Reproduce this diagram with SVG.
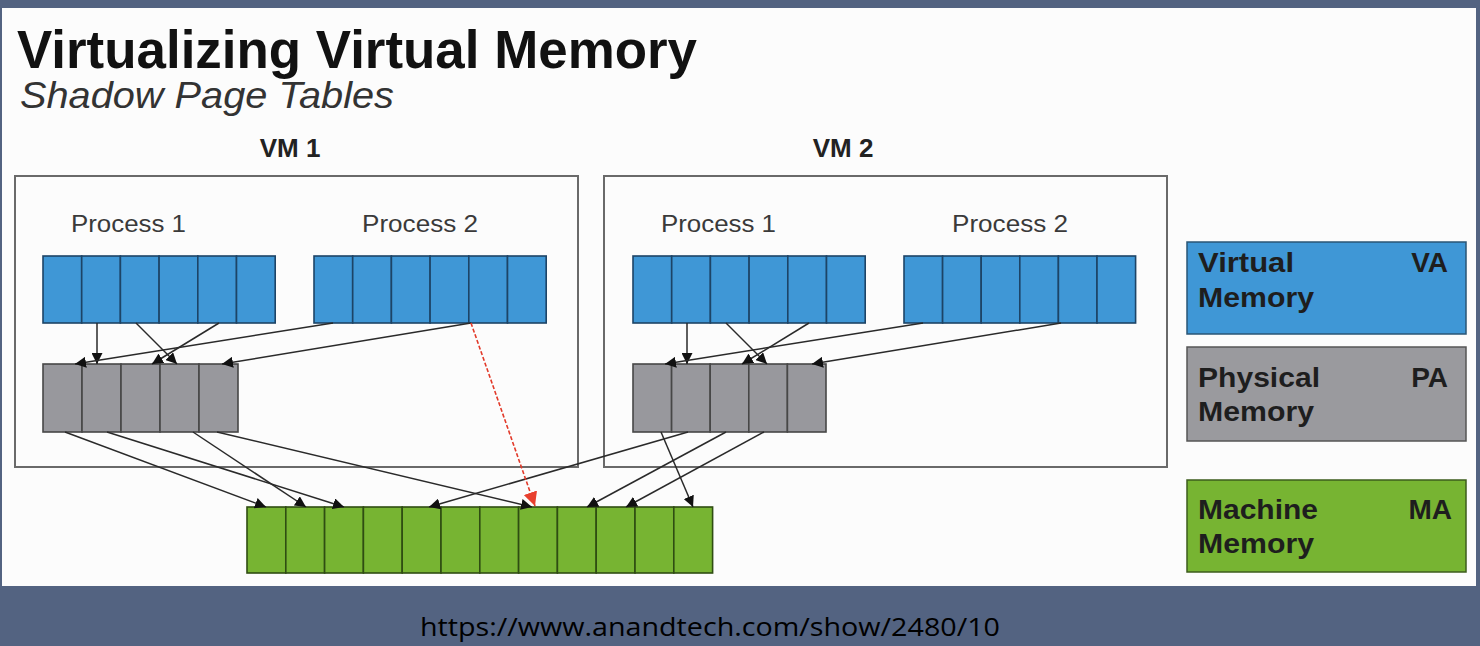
<svg xmlns="http://www.w3.org/2000/svg" width="1480" height="646" viewBox="0 0 1480 646">
<style>
.bg{fill:#536381}
.panel{fill:#fcfcfc}
.vmbox{fill:none;stroke:#6a6a6a;stroke-width:2}
.va{fill:#3f97d6;stroke:#1d4466;stroke-width:1.6}
.pa{fill:#98989d;stroke:#474747;stroke-width:1.6}
.ma{fill:#77b432;stroke:#2f4d12;stroke-width:1.6}
.lg-va{fill:#3f97d6;stroke:#2a5575;stroke-width:1.5}
.lg-pa{fill:#9a9a9e;stroke:#555;stroke-width:1.5}
.lg-ma{fill:#77b432;stroke:#3d5c1c;stroke-width:1.5}
.title{font-family:"Liberation Sans",Arial,sans-serif;font-weight:bold;font-size:53px;fill:#111}
.sub{font-family:"Liberation Sans",Arial,sans-serif;font-style:italic;font-size:36px;fill:#333}
.vm{font-family:"Liberation Sans",Arial,sans-serif;font-weight:bold;font-size:26px;fill:#222}
.proc{font-family:"Liberation Sans",Arial,sans-serif;font-size:23px;fill:#3a3a3a}
.lg{font-family:"Liberation Sans",Arial,sans-serif;font-weight:bold;font-size:28px;fill:#1e1e1e}
.url{font-family:"Open Sans","DejaVu Sans",sans-serif;font-size:25px;fill:#000}
.conn{stroke:#2a2a2a;stroke-width:1.5;fill:none;marker-end:url(#ah)}
.red{stroke:#e23a2a;stroke-width:1.6;stroke-dasharray:4 2;fill:none;marker-end:url(#ahr)}
</style>
<defs>
<marker id="ah" viewBox="0 0 10 10" refX="10" refY="5" markerWidth="11" markerHeight="11" markerUnits="userSpaceOnUse" orient="auto">
<path d="M0,0 L10,5 L0,10 z" fill="#111"/>
</marker>
<marker id="ahr" viewBox="0 0 10 10" refX="10" refY="5" markerWidth="14" markerHeight="14" markerUnits="userSpaceOnUse" orient="auto">
<path d="M0,0 L10,5 L0,10 z" fill="#e8402e"/>
</marker>
</defs>
<rect class="bg" x="0" y="0" width="1480" height="646"/>
<rect class="panel" x="2" y="8" width="1474" height="578"/>
<g id="title">
<text class="title" x="17" y="68" textLength="680" lengthAdjust="spacingAndGlyphs">Virtualizing Virtual Memory</text>
<text class="sub" x="20" y="108" textLength="374" lengthAdjust="spacingAndGlyphs">Shadow Page Tables</text>
</g>
<g id="vm1">
<text class="vm" x="290" y="157" text-anchor="middle">VM 1</text>
<rect class="vmbox" x="15" y="176" width="563" height="291"/>
<text class="proc" x="71" y="232" textLength="115" lengthAdjust="spacingAndGlyphs">Process 1</text>
<text class="proc" x="362" y="232" textLength="116" lengthAdjust="spacingAndGlyphs">Process 2</text>
</g>
<g id="vm2">
<text class="vm" x="843" y="157" text-anchor="middle">VM 2</text>
<rect class="vmbox" x="604" y="176" width="563" height="291"/>
<text class="proc" x="661" y="232" textLength="115" lengthAdjust="spacingAndGlyphs">Process 1</text>
<text class="proc" x="952" y="232" textLength="116" lengthAdjust="spacingAndGlyphs">Process 2</text>
</g>
<g id="vm1-p1-va">
<rect class="va" x="43" y="256" width="38.7" height="67"/><rect class="va" x="81.7" y="256" width="38.7" height="67"/><rect class="va" x="120.4" y="256" width="38.7" height="67"/><rect class="va" x="159.1" y="256" width="38.7" height="67"/><rect class="va" x="197.8" y="256" width="38.7" height="67"/><rect class="va" x="236.5" y="256" width="38.7" height="67"/>
</g>
<g id="vm1-p2-va">
<rect class="va" x="314" y="256" width="38.7" height="67"/><rect class="va" x="352.7" y="256" width="38.7" height="67"/><rect class="va" x="391.4" y="256" width="38.7" height="67"/><rect class="va" x="430.1" y="256" width="38.7" height="67"/><rect class="va" x="468.8" y="256" width="38.7" height="67"/><rect class="va" x="507.5" y="256" width="38.7" height="67"/>
</g>
<g id="vm2-p1-va">
<rect class="va" x="633" y="256" width="38.7" height="67"/><rect class="va" x="671.7" y="256" width="38.7" height="67"/><rect class="va" x="710.4" y="256" width="38.7" height="67"/><rect class="va" x="749.1" y="256" width="38.7" height="67"/><rect class="va" x="787.8" y="256" width="38.7" height="67"/><rect class="va" x="826.5" y="256" width="38.7" height="67"/>
</g>
<g id="vm2-p2-va">
<rect class="va" x="904" y="256" width="38.6" height="67"/><rect class="va" x="942.6" y="256" width="38.6" height="67"/><rect class="va" x="981.2" y="256" width="38.6" height="67"/><rect class="va" x="1019.8" y="256" width="38.6" height="67"/><rect class="va" x="1058.4" y="256" width="38.6" height="67"/><rect class="va" x="1097" y="256" width="38.6" height="67"/>
</g>
<g id="vm1-pa">
<rect class="pa" x="43" y="364" width="39" height="68"/><rect class="pa" x="82" y="364" width="39" height="68"/><rect class="pa" x="121" y="364" width="39" height="68"/><rect class="pa" x="160" y="364" width="39" height="68"/><rect class="pa" x="199" y="364" width="39" height="68"/>
</g>
<g id="vm2-pa">
<rect class="pa" x="633" y="364" width="38.6" height="68"/><rect class="pa" x="671.6" y="364" width="38.6" height="68"/><rect class="pa" x="710.2" y="364" width="38.6" height="68"/><rect class="pa" x="748.8" y="364" width="38.6" height="68"/><rect class="pa" x="787.4" y="364" width="38.6" height="68"/>
</g>
<g id="machine-memory">
<rect class="ma" x="247" y="507" width="38.8" height="66"/><rect class="ma" x="285.8" y="507" width="38.8" height="66"/><rect class="ma" x="324.6" y="507" width="38.8" height="66"/><rect class="ma" x="363.4" y="507" width="38.8" height="66"/><rect class="ma" x="402.2" y="507" width="38.8" height="66"/><rect class="ma" x="441" y="507" width="38.8" height="66"/><rect class="ma" x="479.8" y="507" width="38.8" height="66"/><rect class="ma" x="518.6" y="507" width="38.8" height="66"/><rect class="ma" x="557.4" y="507" width="38.8" height="66"/><rect class="ma" x="596.2" y="507" width="38.8" height="66"/><rect class="ma" x="635" y="507" width="38.8" height="66"/><rect class="ma" x="673.8" y="507" width="38.8" height="66"/>
</g>
<g id="connectors">
<line class="conn" x1="97" y1="323" x2="97" y2="364"/>
<line class="conn" x1="136" y1="323" x2="177" y2="364"/>
<line class="conn" x1="219" y1="323" x2="152" y2="364"/>
<line class="conn" x1="333" y1="323" x2="75" y2="364"/>
<line class="conn" x1="471" y1="323" x2="222" y2="364"/>
<line class="conn" x1="687" y1="323" x2="687" y2="364"/>
<line class="conn" x1="726" y1="323" x2="767" y2="364"/>
<line class="conn" x1="809" y1="323" x2="742" y2="364"/>
<line class="conn" x1="923" y1="323" x2="665" y2="364"/>
<line class="conn" x1="1061" y1="323" x2="812" y2="364"/>
<line class="conn" x1="65" y1="432" x2="266" y2="507"/>
<line class="conn" x1="107" y1="432" x2="344" y2="507"/>
<line class="conn" x1="193" y1="432" x2="306" y2="507"/>
<line class="conn" x1="217" y1="432" x2="532" y2="507"/>
<line class="conn" x1="661" y1="432" x2="693" y2="507"/>
<line class="conn" x1="688" y1="432" x2="429" y2="507"/>
<line class="conn" x1="726" y1="432" x2="587" y2="507"/>
<line class="conn" x1="764" y1="432" x2="626" y2="507"/>
<line class="red" x1="471" y1="323" x2="535" y2="506"/>
</g>
<g id="legend-va">
<rect class="lg-va" x="1187" y="242" width="279" height="92"/>
<text class="lg" x="1198" y="272" textLength="96" lengthAdjust="spacingAndGlyphs">Virtual</text>
<text class="lg" x="1198" y="307" textLength="116" lengthAdjust="spacingAndGlyphs">Memory</text>
<text class="lg" x="1448" y="272" text-anchor="end">VA</text>
</g>
<g id="legend-pa">
<rect class="lg-pa" x="1187" y="347" width="279" height="94"/>
<text class="lg" x="1198" y="387" textLength="122" lengthAdjust="spacingAndGlyphs">Physical</text>
<text class="lg" x="1198" y="421" textLength="116" lengthAdjust="spacingAndGlyphs">Memory</text>
<text class="lg" x="1448" y="387" text-anchor="end">PA</text>
</g>
<g id="legend-ma">
<rect class="lg-ma" x="1187" y="480" width="279" height="92"/>
<text class="lg" x="1198" y="519" textLength="120" lengthAdjust="spacingAndGlyphs">Machine</text>
<text class="lg" x="1198" y="553" textLength="116" lengthAdjust="spacingAndGlyphs">Memory</text>
<text class="lg" x="1452" y="519" text-anchor="end">MA</text>
</g>
<text class="url" x="420" y="636" textLength="580" lengthAdjust="spacingAndGlyphs">https://www.anandtech.com/show/2480/10</text>
</svg>
